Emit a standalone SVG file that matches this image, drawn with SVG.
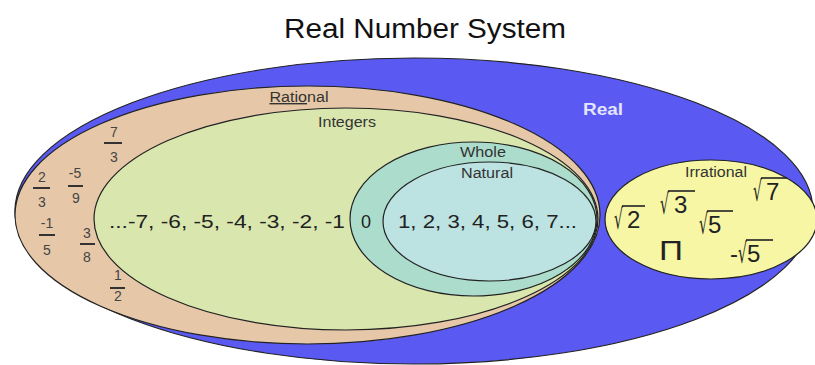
<svg xmlns="http://www.w3.org/2000/svg" width="815" height="365" viewBox="0 0 815 365">
<style>
.set{stroke:#222;stroke-width:1.2}
.lbl{font-family:"Liberation Sans",Arial,sans-serif;font-size:14px;fill:#333;text-anchor:middle}
.num{font-family:"Liberation Sans",Arial,sans-serif;font-size:18px;fill:#222}
.fr{font-family:"Liberation Sans",Arial,sans-serif;font-size:14px;fill:#444;text-anchor:middle}
.bar{stroke:#333;stroke-width:2}
.dig{font-family:"Liberation Sans",Arial,sans-serif;font-size:24px;fill:#222}
.rad{font-family:"DejaVu Sans",sans-serif;font-size:28px;fill:#222}
.vin{stroke:#222;stroke-width:1.6}
</style>
<rect width="815" height="365" fill="#ffffff"/>
<text x="425" y="38" font-family="Liberation Sans, Arial, sans-serif" font-size="27" fill="#111" text-anchor="middle" textLength="282" lengthAdjust="spacingAndGlyphs">Real Number System</text>
<g id="real">
<ellipse class="set" cx="414" cy="211" rx="399" ry="153" fill="#5a5af2"/>
<text x="603" y="115" font-family="Liberation Sans, Arial, sans-serif" font-size="16" font-weight="bold" fill="#e4e4ff" text-anchor="middle" textLength="40" lengthAdjust="spacingAndGlyphs">Real</text>
</g>
<g id="rational">
<ellipse class="set" cx="307.5" cy="215" rx="292.5" ry="129" fill="#e6c8a8"/>
<text class="lbl" x="299" y="102" textLength="59" lengthAdjust="spacingAndGlyphs"><tspan text-decoration="underline">Ratio</tspan>nal</text>
<g id="fractions">
<text class="fr" x="114" y="137">7</text><line class="bar" x1="104" y1="143" x2="122" y2="143"/><text class="fr" x="114" y="162">3</text>
<text class="fr" x="42" y="182">2</text><line class="bar" x1="33" y1="188" x2="50" y2="188"/><text class="fr" x="42" y="207">3</text>
<text class="fr" x="75" y="178">-5</text><line class="bar" x1="68" y1="186" x2="83" y2="186"/><text class="fr" x="76" y="203">9</text>
<text class="fr" x="47" y="228">-1</text><line class="bar" x1="39" y1="235" x2="55" y2="235"/><text class="fr" x="47" y="255">5</text>
<text class="fr" x="87" y="238">3</text><line class="bar" x1="80" y1="244" x2="95" y2="244"/><text class="fr" x="87" y="262">8</text>
<text class="fr" x="118" y="280">1</text><line class="bar" x1="110" y1="288" x2="125" y2="288"/><text class="fr" x="118" y="301">2</text>
</g>
</g>
<g id="integers">
<ellipse class="set" cx="346" cy="219" rx="252" ry="111" fill="#d9e6ae"/>
<text class="lbl" x="347" y="127" textLength="58" lengthAdjust="spacingAndGlyphs">Integers</text>
<text class="num" x="109" y="228" textLength="236" lengthAdjust="spacingAndGlyphs">...-7, -6, -5, -4, -3, -2, -1</text>
</g>
<g id="whole">
<ellipse class="set" cx="473.5" cy="219" rx="123.5" ry="77" fill="#acdccc"/>
<text class="lbl" x="483" y="157" textLength="46" lengthAdjust="spacingAndGlyphs">Whole</text>
<text class="num" x="366" y="228" text-anchor="middle">0</text>
</g>
<g id="natural">
<ellipse class="set" cx="489.5" cy="221.5" rx="106.5" ry="59.5" fill="#bce2e2"/>
<text class="lbl" x="487" y="178" textLength="52" lengthAdjust="spacingAndGlyphs">Natural</text>
<text class="num" x="398" y="228" textLength="179" lengthAdjust="spacingAndGlyphs">1, 2, 3, 4, 5, 6, 7...</text>
</g>
<g id="irrational">
<ellipse class="set" cx="711" cy="219.5" rx="106" ry="59.5" fill="#f6f6a4"/>
<text class="lbl" x="716" y="177" textLength="62" lengthAdjust="spacingAndGlyphs">Irrational</text>
<text class="rad" transform="translate(614,229) scale(0.5,1)">√</text><line class="vin" x1="622" y1="206" x2="645" y2="206"/><text class="dig" x="627" y="228">2</text>
<text class="rad" transform="translate(660,214) scale(0.5,1)">√</text><line class="vin" x1="668" y1="191" x2="695" y2="191"/><text class="dig" x="674" y="213">3</text>
<text class="rad" transform="translate(753,201) scale(0.5,1)">√</text><line class="vin" x1="761" y1="178" x2="787" y2="178"/><text class="dig" x="766" y="200">7</text>
<text class="rad" transform="translate(699,234) scale(0.5,1)">√</text><line class="vin" x1="707" y1="211" x2="733" y2="211"/><text class="dig" x="708" y="233">5</text>
<text class="dig" x="730" y="262" font-size="18">-</text>
<text class="rad" transform="translate(738,263) scale(0.5,1)">√</text><line class="vin" x1="746" y1="240" x2="773" y2="240"/><text class="dig" x="747" y="262">5</text>
<text x="671" y="260" text-anchor="middle" font-family="Liberation Sans, sans-serif" font-size="27" fill="#222" textLength="24" lengthAdjust="spacingAndGlyphs">Π</text>
</g>
</svg>
